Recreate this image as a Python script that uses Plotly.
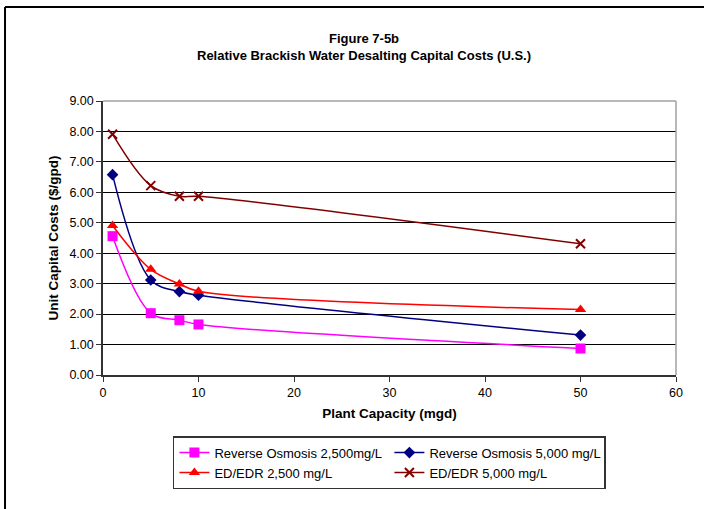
import plotly.graph_objects as go

# capacity (mgd)
capacidade = [1, 5, 8, 10, 50]

# unit capital cost ($/gpd)
ro_2500 = [4.56, 2.03, 1.80, 1.66, 0.87]
ro_5000 = [6.58, 3.12, 2.74, 2.62, 1.31]
ed_2500 = [4.91, 3.47, 2.99, 2.75, 2.15]
ed_5000 = [7.91, 6.22, 5.87, 5.87, 4.31]

nomes = ['Reverse Osmosis 2,500mg/L', 'Reverse Osmosis 5,000 mg/L',
         'ED/EDR 2,500 mg/L', 'ED/EDR 5,000 mg/L']
cores = ['#FF00FF', '#000080', '#FF0000', '#800000']
simbolos = ['square', 'diamond', 'triangle-up', 'x-thin']
tamanhos = [10, 9, 10, 9]

x_ticks = [0, 10, 20, 30, 40, 50, 60]
y_ticks = [0, 1, 2, 3, 4, 5, 6, 7, 8, 9]

fig = go.Figure()

for serie, nome, cor, simb, tam in zip([ro_2500, ro_5000, ed_2500, ed_5000],
                                        nomes, cores, simbolos, tamanhos):
    fig.add_trace(go.Scatter(
        x=capacidade, y=serie, name=nome,
        mode='lines+markers',
        line=dict(color=cor, width=1.5, shape='spline', smoothing=1),
        marker=dict(symbol=simb, size=tam, color=cor,
                    line=dict(color=cor, width=2 if simb == 'x-thin' else 0)),
    ))

fonte = 'Liberation Sans, Arial, sans-serif'

fig.update_layout(
    width=704, height=509,
    margin=dict(l=103, r=28, t=101, b=134),
    paper_bgcolor='white', plot_bgcolor='white',
    font=dict(family=fonte, size=12.5, color='black'),
    showlegend=True,
    legend=dict(
        orientation='h', x=0.122, y=-0.223, xanchor='left', yanchor='top',
        bordercolor='#333333', borderwidth=1.5,
        font=dict(family=fonte, size=13),
        entrywidth=170, entrywidthmode='pixels',
        tracegroupgap=0, itemwidth=30,
    ),
    xaxis=dict(
        range=[0, 60], tickvals=x_ticks, showgrid=False, zeroline=False,
        showline=True, linecolor='#333333', linewidth=1.5,
        ticks='outside', ticklen=5, tickcolor='#333333',
        title=dict(text='<b>Plant Capacity (mgd)</b>', font=dict(size=13.5), standoff=10),
        mirror=False,
    ),
    yaxis=dict(
        range=[0, 9], tickvals=y_ticks, tickformat='.2f',
        showgrid=True, gridcolor='black', gridwidth=1.2, zeroline=False,
        showline=True, linecolor='#333333', linewidth=1.5,
        ticks='outside', ticklen=5, tickcolor='#333333',
        title=dict(text='<b>Unit Capital Costs ($/gpd)</b>', font=dict(size=13.5), standoff=8),
    ),
    annotations=[
        dict(text='<b>Figure 7-5b</b>', x=0.455, y=1.261, xref='paper', yref='paper',
             showarrow=False, font=dict(family=fonte, size=13)),
        dict(text='<b>Relative Brackish Water Desalting Capital Costs (U.S.)</b>',
             x=0.455, y=1.2, xref='paper', yref='paper',
             showarrow=False, font=dict(family=fonte, size=13)),
    ],
    shapes=[
        # plot area frame, top and right in grey
        dict(type='line', xref='paper', yref='paper', x0=0, x1=1, y0=1, y1=1,
             line=dict(color='#A0A0A0', width=1.5)),
        dict(type='line', xref='paper', yref='paper', x0=1, x1=1, y0=0, y1=1,
             line=dict(color='#A0A0A0', width=1.5)),
        # outer page border (left and top)
        dict(type='line', xref='paper', yref='paper', x0=-0.171, x1=1.1, y0=1.343, y1=1.343,
             line=dict(color='black', width=2)),
        dict(type='line', xref='paper', yref='paper', x0=-0.171, x1=-0.171, y0=1.343, y1=-0.6,
             line=dict(color='black', width=2)),
    ],
)

# drop the default body margin so the figure sits at the page origin
fig.write_html('out.html', config={'displayModeBar': False},
               post_script="document.body.style.margin='0px';")
